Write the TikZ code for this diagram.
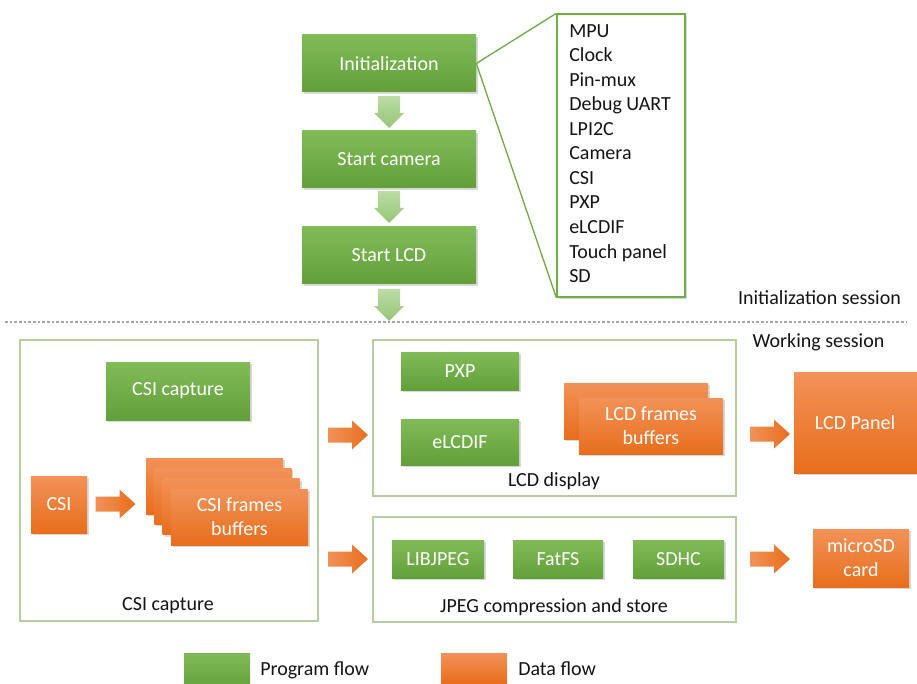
\documentclass[tikz,border=0pt]{standalone}
\usepackage{fontspec}
\setmainfont{Carlito}
\usetikzlibrary{shadows}
\definecolor{gtop}{RGB}{128,187,88}
\definecolor{gbot}{RGB}{98,160,58}
\definecolor{otop}{RGB}{242,146,88}
\definecolor{obot}{RGB}{232,110,28}
\definecolor{lgtop}{RGB}{188,220,166}
\definecolor{lgbot}{RGB}{150,198,118}
\definecolor{gline}{RGB}{112,173,71}
\definecolor{cline}{RGB}{180,206,162}
\definecolor{txt}{RGB}{20,20,20}
\tikzset{
  base/.style={inner sep=0pt, font=\fontsize{15}{18}\selectfont, align=center},
  sz/.style 2 args={minimum width=#1*0.75pt, minimum height=#2*0.75pt},
  shad/.style={drop shadow={shadow xshift=1.5pt, shadow yshift=-1.5pt, opacity=0.3}},
  gbox/.style={base, text=white, top color=gtop, bottom color=gbot, shad},
  obox/.style={base, text=white, top color=otop, bottom color=obot, shad},
  frame/.style={base, draw=cline, line width=0.8pt},
  lbl/.style={base, text=txt},
  garr/.pic={\shade[top color=lgtop, bottom color=lgbot] (-11,-16) -- (11,-16) -- (11,1) -- (15,1) -- (0,16) -- (-15,1) -- (-11,1) -- cycle;},
  oarr/.pic={\shade[left color=otop, right color=obot] (-20,-7.5) -- (4,-7.5) -- (4,-14.5) -- (20,0) -- (4,14.5) -- (4,7.5) -- (-20,7.5) -- cycle;},
}
\begin{document}
\begin{tikzpicture}[x=0.75pt,y=-0.75pt]
\useasboundingbox[fill=white] (0,0) rectangle (917,684);

% program flow
\node[gbox, sz={174}{57}] (init) at (389,63.5) {Initialization};
\node[gbox, sz={174}{57}] (cam) at (389,159.5) {Start camera};
\node[gbox, sz={174}{57}] (lcd) at (389,255.5) {Start LCD};
\pic at (389,112) {garr};
\pic at (389,207) {garr};
\pic at (389,305) {garr};

% init list
\node[base, draw=gline, fill=white, line width=1pt, shad, sz={128}{283}] (list) at (621,155.5) {};
\draw[gline, line width=1pt] (init.east) -- (list.north west);
\draw[gline, line width=1pt] (init.east) -- (list.south west);
\foreach \t [count=\i from 0] in {MPU,Clock,Pin-mux,Debug UART,LPI2C,Camera,CSI,PXP,eLCDIF,Touch panel,SD}
  \node[lbl, anchor=base west] (item\i) at (569,37.5+24.5*\i) {\t};

% session separator
\coordinate (dl) at (5,322);
\coordinate (dr) at (906,322);
\draw[black!35, dash pattern=on 2pt off 1.5pt, line width=0.8pt] (dl) -- (dr);
\node[lbl, anchor=base] (isess) at (819.5,305) {Initialization session};
\node[lbl, anchor=base] (wsess) at (818.5,347.5) {Working session};

% CSI capture group
\node[frame, sz={298}{281}] (csigroup) at (169,480.5) {};
\node[gbox, sz={144}{58}] (csicap) at (178,391) {CSI capture};
\node[obox, sz={56}{57}] (csi) at (59,504.5) {CSI};
\pic at (115.5,504) {oarr};
\node[obox, sz={137}{56}] (buf1) at (214.5,486) {};
\node[obox, sz={137}{56}] (buf2) at (222.8,496.3) {};
\node[obox, sz={137}{56}] (buf3) at (231.2,506.7) {};
\node[obox, sz={137}{56}] (buf4) at (239.5,517) {CSI frames\\buffers};
\node[lbl, anchor=base] (csilbl) at (168,610.5) {CSI capture};

\pic at (348,435) {oarr};
\pic at (348,559) {oarr};

% LCD display group
\node[frame, sz={363}{156}] (lcdgroup) at (554.5,418) {};
\node[gbox, sz={118}{38}] (pxp) at (460,371) {PXP};
\node[gbox, sz={118}{46}] (elcdif) at (460,442) {eLCDIF};
\node[obox, sz={144}{56}] (lfb1) at (636,411) {};
\node[obox, sz={144}{56}] (lfb2) at (651,426) {LCD frames\\buffers};
\node[lbl, anchor=base] (lcdlbl) at (554,486.5) {LCD display};

% JPEG group
\node[frame, sz={363}{105}] (jpeggroup) at (554.5,569.5) {};
\node[gbox, sz={92}{38}] (libjpeg) at (438,559) {LIBJPEG};
\node[gbox, sz={90}{38}] (fatfs) at (558,559) {FatFS};
\node[gbox, sz={91}{38}] (sdhc) at (678.5,559) {SDHC};
\node[lbl, anchor=base] (jpeglbl) at (554,612.5) {JPEG compression and store};

% outputs
\pic at (770,434) {oarr};
\pic at (770,559) {oarr};
\node[obox, sz={136}{101}] (panel) at (862,422.5) {};
\node[base, text=white] (paneltxt) at (855,423) {LCD Panel};
\node[obox, sz={96}{58}] (microsd) at (861,558) {microSD\\card};

% legend
\node[base, top color=gtop, bottom color=gbot, sz={66}{37}] (legg) at (217,671.5) {};
\node[lbl, anchor=base west] (leggt) at (260,675.5) {Program flow};
\node[base, top color=otop, bottom color=obot, sz={66}{30}] (lego) at (474,668) {};
\node[lbl, anchor=base west] (legot) at (518,675.5) {Data flow};
\end{tikzpicture}
\end{document}
